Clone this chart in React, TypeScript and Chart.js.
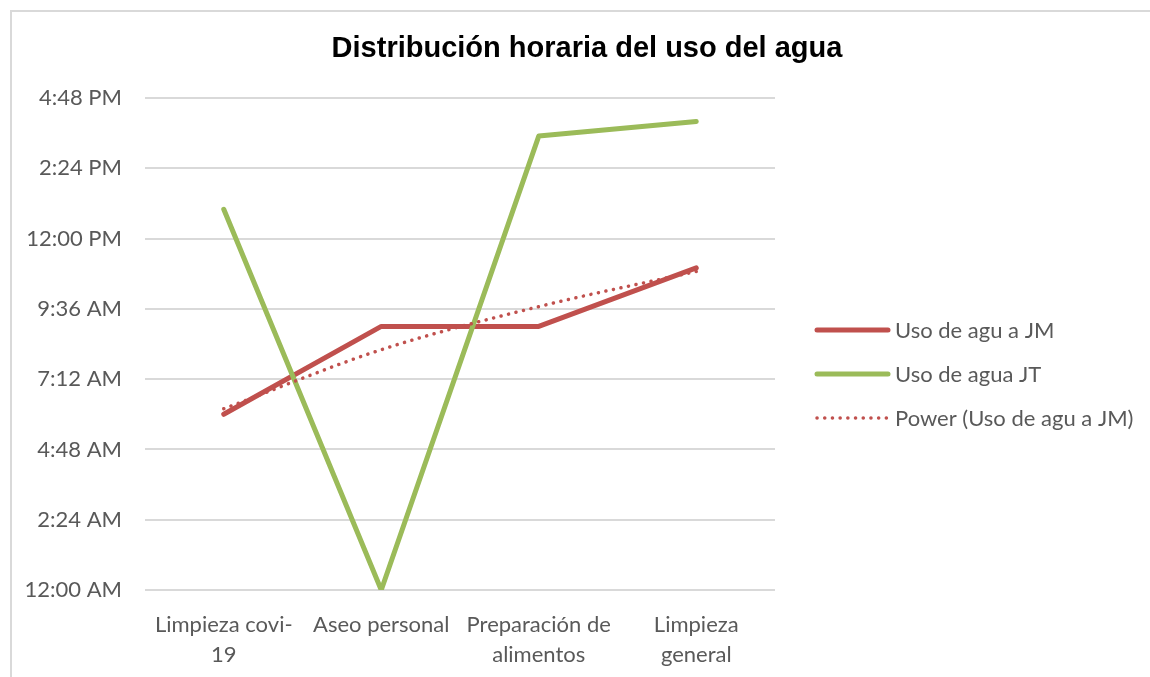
import React, { useEffect, useRef } from "react";
import { Chart, registerables } from "chart.js";

Chart.register(...registerables);

const chartTitle = "Distribución horaria del uso del agua";
const categories: string[][] = [
  ["Limpieza covi-", "19"],
  ["Aseo personal"],
  ["Preparación de", "alimentos"],
  ["Limpieza", "general"],
];
const labelJM = "Uso de agu a JM";
const labelJT = "Uso de agua JT";
const labelTrend = "Power (Uso de agu a JM)";
// hour of day (decimal hours)
const usoJM = [6, 9, 9, 11];
const usoJT = [13, 0, 15.5, 16];
const yMin = 0;
const yMax = 16.8;
const yStep = 2.4;

const RED = "#C0504D";
const GREEN = "#9BBB59";
const TEXT = "#595959";
const GRID = "#D9D9D9";
const FONT = "Lato, 'Open Sans', sans-serif";

// Excel-style power trendline (least squares on ln x, ln y) derived from the JM series
function powerTrend(ys: number[]): number[] {
  const n = ys.length;
  const lx = ys.map((_, i) => Math.log(i + 1));
  const ly = ys.map((y) => Math.log(y));
  const mx = lx.reduce((a, b) => a + b, 0) / n;
  const my = ly.reduce((a, b) => a + b, 0) / n;
  let sxx = 0;
  let sxy = 0;
  for (let i = 0; i < n; i++) {
    sxx += (lx[i] - mx) ** 2;
    sxy += (lx[i] - mx) * (ly[i] - my);
  }
  const b = sxy / sxx;
  const a = Math.exp(my - b * mx);
  return ys.map((_, i) => a * Math.pow(i + 1, b));
}

function formatTime(v: number): string {
  const total = Math.round(v * 60);
  const h24 = Math.floor(total / 60) % 24;
  const m = total % 60;
  const ampm = h24 < 12 ? "AM" : "PM";
  const h12 = h24 % 12 === 0 ? 12 : h24 % 12;
  return `${h12}:${String(m).padStart(2, "0")} ${ampm}`;
}

const titlePlugin = {
  id: "excelTitle",
  afterDraw(chart: any) {
    const ctx = chart.ctx as CanvasRenderingContext2D;
    ctx.save();
    ctx.fillStyle = "#000000";
    ctx.font = `bold 29px 'Liberation Sans', Arial, sans-serif`;
    ctx.textAlign = "center";
    ctx.textBaseline = "middle";
    ctx.fillText(chartTitle, 587, 49);
    ctx.restore();
  },
};

const legendPlugin = {
  id: "excelLegend",
  afterDraw(chart: any) {
    const ctx = chart.ctx as CanvasRenderingContext2D;
    const area = chart.chartArea;
    const items = chart.data.datasets
      .map((ds: any) => ds)
      .sort((a: any, b: any) => a.legendIndex - b.legendIndex);
    const x0 = area.right + 42;
    const x1 = x0 + 71;
    const y0 = 330;
    const gap = 44;
    ctx.save();
    items.forEach((ds: any, i: number) => {
      const y = y0 + i * gap;
      ctx.beginPath();
      ctx.strokeStyle = ds.borderColor;
      ctx.lineCap = "round";
      ctx.lineWidth = ds.borderWidth;
      ctx.setLineDash(ds.borderDash || []);
      ctx.moveTo(x0, y);
      ctx.lineTo(x1, y);
      ctx.stroke();
      ctx.setLineDash([]);
      ctx.fillStyle = TEXT;
      ctx.font = `22px ${FONT}`;
      ctx.textBaseline = "middle";
      ctx.textAlign = "left";
      ctx.fillText(ds.label, x1 + 7, y + 1);
    });
    ctx.restore();
  },
};

export default function App() {
  const canvasRef = useRef<HTMLCanvasElement | null>(null);

  useEffect(() => {
    if (!canvasRef.current) return;
    const trend = powerTrend(usoJM);
    const chart = new Chart(canvasRef.current, {
      type: "line",
      data: {
        labels: categories,
        datasets: [
          {
            label: labelJM,
            data: usoJM,
            borderColor: RED,
            backgroundColor: RED,
            borderWidth: 5,
            pointRadius: 0,
            borderCapStyle: "round",
            borderJoinStyle: "round",
            order: 3,
            legendIndex: 0,
          } as any,
          {
            label: labelJT,
            data: usoJT,
            borderColor: GREEN,
            backgroundColor: GREEN,
            borderWidth: 5,
            pointRadius: 0,
            borderCapStyle: "round",
            borderJoinStyle: "round",
            order: 2,
            legendIndex: 1,
          } as any,
          {
            label: labelTrend,
            data: trend,
            borderColor: RED,
            backgroundColor: RED,
            borderWidth: 3.5,
            borderDash: [0.1, 7.6],
            borderCapStyle: "round",
            pointRadius: 0,
            cubicInterpolationMode: "monotone",
            order: 1,
            legendIndex: 2,
          } as any,
        ],
      },
      options: {
        responsive: false,
        animation: false,
        layout: { padding: { left: 0, right: 399, top: 98, bottom: 0 } },
        plugins: {
          legend: { display: false },
          tooltip: { enabled: false },
          title: { display: false },
        },
        scales: {
          x: {
            offset: true,
            grid: { display: false, drawTicks: false, offset: true },
            border: { display: false },
            ticks: {
              color: TEXT,
              font: { family: FONT, size: 22, lineHeight: 1.36 },
              padding: 20,
              maxRotation: 0,
              autoSkip: false,
            },
            afterFit(scale: any) {
              scale.height = 87;
            },
          },
          y: {
            min: yMin,
            max: yMax,
            grid: { color: GRID, lineWidth: 2, drawTicks: false },
            border: { display: false },
            ticks: {
              stepSize: yStep,
              color: TEXT,
              font: { family: FONT, size: 22 },
              padding: 23,
              callback: (v: any) => formatTime(Number(v)),
            },
            afterFit(scale: any) {
              scale.width = 145;
            },
          },
        },
      },
      plugins: [legendPlugin, titlePlugin],
    });
    return () => chart.destroy();
  }, []);

  return (
    <div
      style={{
        position: "fixed",
        left: 0,
        top: 0,
        width: 1150,
        height: 677,
        overflow: "hidden",
        background: "#ffffff",
      }}
    >
      <div
        style={{
          position: "absolute",
          left: 10,
          top: 10,
          width: 1300,
          height: 800,
          border: "2px solid #D9D9D9",
          boxSizing: "border-box",
        }}
      />
      <canvas
        ref={canvasRef}
        width={1174}
        height={677}
        style={{ position: "absolute", left: 0, top: 0, width: 1174, height: 677 }}
      />
    </div>
  );
}
